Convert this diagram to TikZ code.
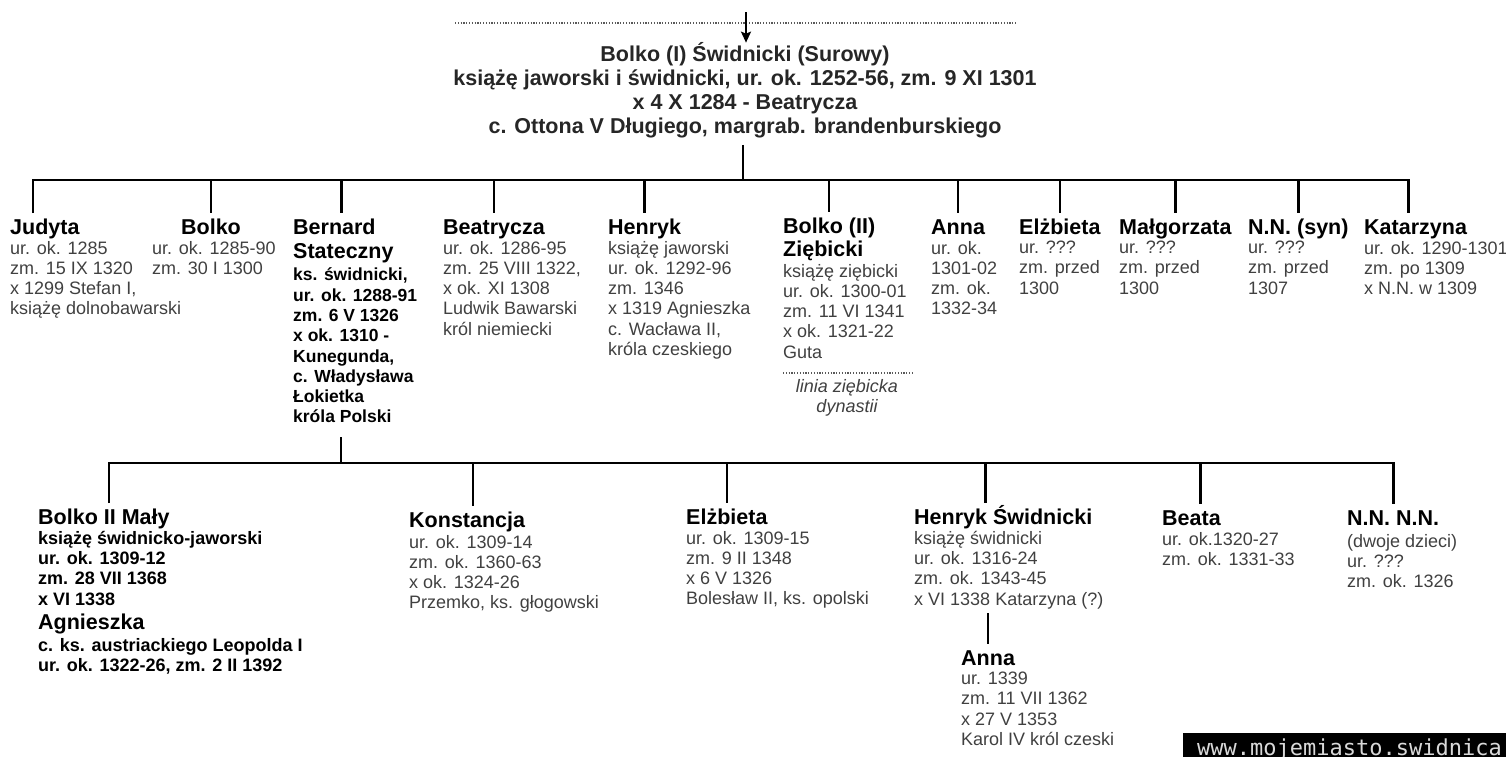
\documentclass[tikz,border=0pt]{standalone}
\usepackage{fontspec}
\setmainfont{Liberation Sans}
\setmonofont{DejaVu Sans Mono}
\usetikzlibrary{arrows.meta}
\definecolor{szary}{gray}{0.25}

\begin{document}
\begin{tikzpicture}[x=1pt,y=-1pt,
    osoba/.style={anchor=base west,inner sep=0pt,text height=15pt,text depth=4pt,outer ysep=6pt,
      font=\fontsize{21.5}{24}\selectfont\bfseries},
    opis/.style={anchor=north west,yshift=14.21pt,inner sep=0pt,align=left,text=szary,
      execute at begin node=\strut,font=\fontsize{18}{20.3}\selectfont},
    opisb/.style={opis,text=black,font=\fontsize{17.5}{20.3}\selectfont\bfseries},
    linia/.style={line width=2.6pt},
    kropki/.style={line width=1.2pt,black!65,dash pattern=on 1.2pt off 1.6pt}]
  \useasboundingbox (0,0) rectangle (1506,756);

  % przodek
  \draw[kropki] (455,23) -- (1016,23);
  \node[anchor=base,inner sep=0pt,align=center,text=black!85,
    font=\fontsize{21.5}{23.7}\selectfont\bfseries] (bolko1) at (745,133)
    {Bolko (I) Świdnicki (Surowy)\\
     książę jaworski i świdnicki, ur. ok. 1252-56, zm. 9 XI 1301\\
     x 4 X 1284 - Beatrycza\\
     c. Ottona V Długiego, margrab. brandenburskiego};
  \coordinate (gora) at (746,12);
  \draw[line width=2pt,-{Stealth[length=11pt,width=10pt,inset=2pt]}] (gora) -- (gora |- bolko1.north);
  \coordinate (szyna1) at (743,180);
  \draw[linia,shorten <=7pt] (bolko1.south -| szyna1) -- (szyna1);

  % dzieci
  \node[osoba] (judyta) at (10,234) {Judyta};
  \node[opis] (judyta-o) at (10,255) {ur. ok. 1285\\zm. 15 IX 1320\\x 1299 Stefan I,\\książę dolnobawarski};

  \node[osoba,anchor=base] (bolko) at (211,234) {Bolko};
  \node[opis] (bolko-o) at (152,255) {ur. ok. 1285-90\\zm. 30 I 1300};

  \node[osoba] (bernard) at (293,234) {Bernard};
  \node[osoba,outer ysep=0pt] (bernard2) at (293,258) {Stateczny};
  \node[opisb] (bernard-o) at (293,282) {ks. świdnicki,\\ur. ok. 1288-91\\zm. 6 V 1326\\x ok. 1310 -\\Kunegunda,\\c. Władysława\\Łokietka\\króla Polski};

  \node[osoba] (beatrycza) at (443,234) {Beatrycza};
  \node[opis] (beatrycza-o) at (443,255) {ur. ok. 1286-95\\zm. 25 VIII 1322,\\x ok. XI 1308\\Ludwik Bawarski\\król niemiecki};

  \node[osoba] (henryk) at (608,234) {Henryk};
  \node[opis] (henryk-o) at (608,255) {książę jaworski\\ur. ok. 1292-96\\zm. 1346\\x 1319 Agnieszka\\c. Wacława II,\\króla czeskiego};

  \node[osoba] (bolko2) at (783,233) {Bolko (II)};
  \node[osoba,outer ysep=0pt] (bolko2b) at (783,256) {Ziębicki};
  \node[opis] (bolko2-o) at (783,278) {książę ziębicki\\ur. ok. 1300-01\\zm. 11 VI 1341\\x ok. 1321-22\\Guta};
  \draw[kropki] (783,373) -- (913,373);
  \node[anchor=base,inner sep=0pt,align=center,text=szary,font=\fontsize{18}{20}\selectfont\itshape] (ziebice) at (847,412) {linia ziębicka\\dynastii};

  \node[osoba] (anna) at (931,234) {Anna};
  \node[opis] (anna-o) at (931,255) {ur. ok.\\1301-02\\zm. ok.\\1332-34};

  \node[osoba] (elzbieta) at (1019,234) {Elżbieta};
  \node[opis] (elzbieta-o) at (1019,255) {ur. ???\\zm. przed\\1300};

  \node[osoba] (malgorzata) at (1119,234) {Małgorzata};
  \node[opis] (malgorzata-o) at (1119,255) {ur. ???\\zm. przed\\1300};

  \node[osoba] (nnsyn) at (1248,234) {N.N. (syn)};
  \node[opis] (nnsyn-o) at (1248,255) {ur. ???\\zm. przed\\1307};

  \node[osoba] (katarzyna) at (1364,234) {Katarzyna};
  \node[opis] (katarzyna-o) at (1364,255) {ur. ok. 1290-1301\\zm. po 1309\\x N.N. w 1309};

  \draw[linia] ([xshift=-12pt]judyta.north) |- (szyna1) -| ([xshift=-7pt]katarzyna.north);
  \foreach \n in {bolko,beatrycza,henryk,bolko2,anna,elzbieta,malgorzata,nnsyn}
    \draw[linia] (\n.north |- szyna1) -- (\n.north);
  \draw[linia] ([xshift=7pt]bernard.north |- szyna1) -- ([xshift=7pt]bernard.north);

  % wnuki
  \coordinate (szyna2) at (341,463);
  \draw[linia,shorten <=8pt] (bernard-o.south -| szyna2) -- (szyna2);

  \node[osoba] (bolkoM) at (38,524) {Bolko II Mały};
  \node[opisb,font=\fontsize{18}{20.3}\selectfont\bfseries] (bolkoM-o) at (38,545) {książę świdnicko-jaworski\\ur. ok. 1309-12\\zm. 28 VII 1368\\x VI 1338};
  \node[osoba,outer ysep=0pt] (agnieszka) at (38,629) {Agnieszka};
  \node[opisb,font=\fontsize{18}{20.3}\selectfont\bfseries] (agnieszka-o) at (38,652) {c. ks. austriackiego Leopolda I\\ur. ok. 1322-26, zm. 2 II 1392};

  \node[osoba] (konstancja) at (409,527) {Konstancja};
  \node[opis] (konstancja-o) at (409,549) {ur. ok. 1309-14\\zm. ok. 1360-63\\x ok. 1324-26\\Przemko, ks. głogowski};

  \node[osoba] (elzbieta2) at (686,524) {Elżbieta};
  \node[opis] (elzbieta2-o) at (686,545) {ur. ok. 1309-15\\zm. 9 II 1348\\x 6 V 1326\\Bolesław II, ks. opolski};

  \node[osoba] (henrykS) at (914,524) {Henryk Świdnicki};
  \node[opis] (henrykS-o) at (914,545) {książę świdnicki\\ur. ok. 1316-24\\zm. ok. 1343-45\\x VI 1338 Katarzyna (?)};

  \node[osoba] (anna2) at (961,665) {Anna};
  \node[opis] (anna2-o) at (961,686) {ur. 1339\\zm. 11 VII 1362\\x 27 V 1353\\Karol IV król czeski};

  \node[osoba] (beata) at (1162,525) {Beata};
  \node[opis] (beata-o) at (1162,546) {ur. ok.1320-27\\zm. ok. 1331-33};

  \node[osoba] (nnnn) at (1347,525) {N.N. N.N.};
  \node[opis] (nnnn-o) at (1347,548) {(dwoje dzieci)\\ur. ???\\zm. ok. 1326};

  \draw[linia] ([xshift=5pt]bolkoM.north) |- (szyna2) -| (nnnn.north);
  \draw[linia] ([xshift=6pt]konstancja.north |- szyna2) -- ([xshift=6pt]konstancja.north);
  \draw[linia] (elzbieta2.north |- szyna2) -- (elzbieta2.north);
  \draw[linia] ([xshift=-18pt]henrykS.north |- szyna2) -- ([xshift=-18pt]henrykS.north);
  \draw[linia] ([xshift=9pt]beata.north |- szyna2) -- ([xshift=9pt]beata.north);
  \draw[linia,shorten <=2pt] (anna2.north |- henrykS-o.south) -- (anna2.north);

  % znak
  \fill[black] (1183,733) rectangle (1506,760);
  \node[anchor=base west,inner sep=0pt,text=black!15,font=\ttfamily\fontsize{22}{22}\selectfont] (www) at (1197,755) {www.mojemiasto.swidnica};
\end{tikzpicture}
\end{document}
